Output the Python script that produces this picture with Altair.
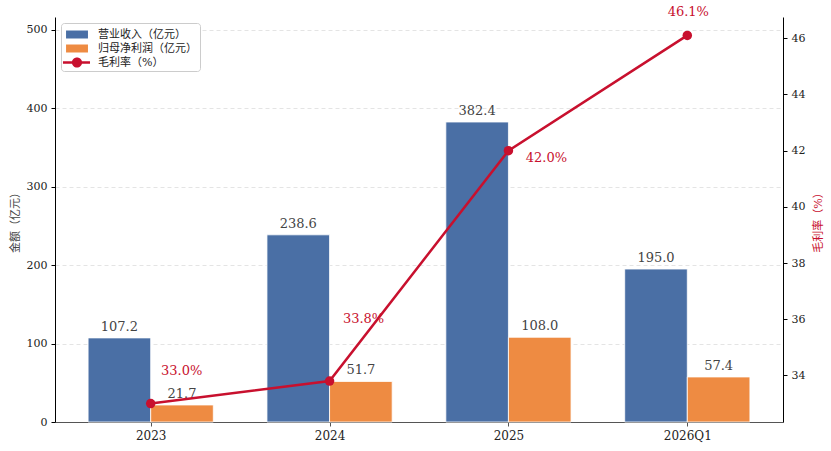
import json
import altair as alt
import pandas as pd

# ---------------- data ----------------
categories = ["2023", "2024", "2025", "2026Q1"]
revenue = [107.2, 238.6, 382.4, 195.0]
net_profit = [21.7, 51.7, 108.0, 57.4]
gross_margin = [33.0, 33.8, 42.0, 46.1]
series_names = ["营业收入（亿元）", "归母净利润（亿元）", "毛利率（%）"]
left_ticks = [0, 100, 200, 300, 400, 500]
right_ticks = [34, 36, 38, 40, 42, 44, 46]

# ---------------- style ----------------
BLUE = "#4A6FA5"
ORANGE = "#EE8B42"
RED = "#C8102E"
FONT = "DejaVu Serif, Noto Sans CJK SC, sans-serif"
BAR_W = 0.35
pct_offsets = [(31, -33), (34, -62), (38, 7), (1, -23)]  # label offsets (px)

df = pd.DataFrame({
    "cat": categories,
    "idx": list(range(len(categories))),
    "revenue": revenue,
    "profit": net_profit,
    "margin": gross_margin,
})

n = len(categories)
x_scale = alt.Scale(domain=[-BAR_W - 0.185, (n - 1) + BAR_W + 0.185], nice=False, zero=False)
x_axis = alt.Axis(
    values=list(range(n)), labelExpr=json.dumps(categories) + "[datum.value]",
    title=None, grid=False, domainColor="#555555", domainWidth=1.2,
    tickColor="#555555", tickSize=4, labelFontSize=12, labelColor="#222222",
    labelPadding=4, labelFont=FONT, labelAngle=0,
)

left_scale = alt.Scale(domain=[0, max(revenue) * 1.35], nice=False, zero=True)
left_axis = alt.Axis(
    values=left_ticks, title="金额（亿元）", grid=True, gridDash=[4, 3],
    gridColor="#dddddd", gridWidth=0.8, domainColor="#000000", tickColor="#000000",
    tickSize=4, labelFontSize=11, labelColor="#222222", labelPadding=4, labelFont=FONT,
    titleFont=FONT, titleFontSize=11, titleColor="#444444", titleFontWeight="normal",
    titlePadding=6,
)

m_lo, m_hi = min(gross_margin), max(gross_margin)
m_pad = 0.05 * (m_hi - m_lo)
right_scale = alt.Scale(domain=[m_lo - m_pad, m_hi + m_pad], nice=False, zero=False)
right_axis = alt.Axis(
    orient="right", values=right_ticks, title="毛利率（%）", grid=False,
    domainColor="#000000", tickColor="#000000", tickSize=4, labelFontSize=11,
    labelColor="#222222", labelPadding=4, labelFont=FONT, titleFont=FONT,
    titleFontSize=11, titleColor=RED, titleFontWeight="normal", titlePadding=8,
    titleAngle=270, titleBaseline="top",
)

base = alt.Chart(df)

bars = (
    base.transform_fold(["revenue", "profit"], as_=["key", "value"])
    .transform_calculate(x0=f"datum.idx + (datum.key === 'revenue' ? -{BAR_W} : 0)")
    .transform_calculate(x1=f"datum.x0 + {BAR_W}")
    .transform_calculate(xc="(datum.x0 + datum.x1) / 2")
)

bar_layer = bars.mark_bar(stroke="white", strokeWidth=0.8).encode(
    x=alt.X("x0:Q", scale=x_scale, axis=x_axis),
    x2="x1:Q",
    y=alt.Y("value:Q", scale=left_scale, axis=left_axis),
    y2=alt.Y2Datum(0),
    color=alt.Color("key:N", scale=alt.Scale(domain=["revenue", "profit"], range=[BLUE, ORANGE]), legend=None),
)

bar_text = bars.mark_text(baseline="bottom", dy=-4, fontSize=13, color="#444444", font=FONT).encode(
    x=alt.X("xc:Q", scale=x_scale, axis=x_axis),
    y=alt.Y("value:Q", scale=left_scale, axis=left_axis),
    text=alt.Text("value:Q", format=".1f"),
)

left = alt.layer(bar_layer, bar_text)

line = base.mark_line(
    color=RED, strokeWidth=2.5,
    point=alt.OverlayMarkDef(filled=True, size=90, color=RED, opacity=1),
).encode(
    x=alt.X("idx:Q", scale=x_scale, axis=x_axis),
    y=alt.Y("margin:Q", scale=right_scale, axis=right_axis),
)

pct_layers = []
for i, (ddx, ddy) in enumerate(pct_offsets):
    pct_layers.append(
        base.transform_filter(alt.datum.idx == i)
        .transform_calculate(lbl="format(datum.margin, '.1f') + '%'")
        .mark_text(dx=ddx, dy=ddy, fontSize=13, color=RED, font=FONT, align="center", baseline="middle")
        .encode(
            x=alt.X("idx:Q", scale=x_scale, axis=x_axis),
            y=alt.Y("margin:Q", scale=right_scale, axis=right_axis),
            text="lbl:N",
        )
    )

right = alt.layer(line, *pct_layers)

# legend driven by an invisible point layer
rect_path = "M-0.76,-0.47H1.82V0.47H-0.76Z"
line_path = ("M-1.12,-0.15H2.06V0.15H-1.12Z "
             "M-0.07,0A0.6,0.6 0 1,1 1.13,0A0.6,0.6 0 1,1 -0.07,0Z")
leg = alt.Legend(
    title=None, orient="none", legendX=6, legendY=6, symbolSize=289,
    symbolStrokeWidth=0, symbolOpacity=1, labelFont=FONT, labelFontSize=11,
    labelColor="#222222", labelOffset=17, rowPadding=0, padding=3,
    strokeColor="#cccccc", fillColor="white", cornerRadius=3,
)
legend_layer = alt.Chart(pd.DataFrame({"series": series_names})).mark_point(
    filled=True, size=0, opacity=1
).encode(
    x=alt.value(0), y=alt.value(0),
    color=alt.Color("series:N", scale=alt.Scale(domain=series_names, range=[BLUE, ORANGE, RED]), legend=leg),
    shape=alt.Shape("series:N", scale=alt.Scale(domain=series_names, range=[rect_path, rect_path, line_path]), legend=leg),
)

chart = (
    alt.layer(left, right, legend_layer)
    .resolve_scale(y="independent", color="independent", shape="independent")
    .properties(
        width=728, height=405,
        autosize=alt.AutoSizeParams(type="none"),
        padding={"left": 55, "top": 17, "right": 48, "bottom": 29},
    )
    .configure_view(stroke=None)
)

chart.save("out.html", embed_options={"renderer": "svg", "actions": False})
